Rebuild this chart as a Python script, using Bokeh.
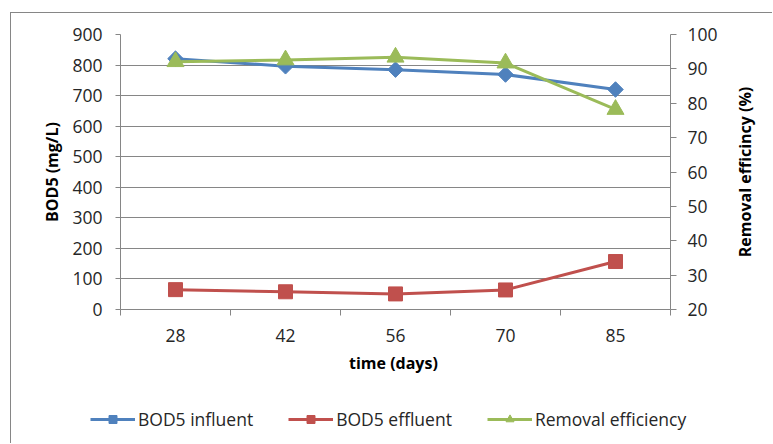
from math import pi

from bokeh.embed import file_html
from bokeh.layouts import column, row
from bokeh.models import FixedTicker, Legend, LegendItem, LinearAxis, Range1d
from bokeh.plotting import figure
from bokeh.resources import INLINE

# sampling days and measured values
days = ["28", "42", "56", "70", "85"]
bod_influent = [821, 796, 785, 769, 720]      # mg/L
bod_effluent = [65, 58, 51, 64, 157]          # mg/L
removal_eff = [92.1, 92.6, 93.4, 91.7, 78.2]  # %

left_ticks = [0, 100, 200, 300, 400, 500, 600, 700, 800, 900]
right_ticks = [20, 30, 40, 50, 60, 70, 80, 90, 100]

series_names = ["BOD5 influent", "BOD5 effluent", "Removal efficiency"]

BLUE = "#4F81BD"
RED = "#C0504D"
GREEN = "#9BBB59"
GRID = "#868686"
FONT = "Open Sans"
EDGE = f"1px solid {GRID}"

pos = list(range(1, len(days) + 1))

# ---- main chart -------------------------------------------------------
p = figure(width=717, height=380, output_backend="svg", toolbar_location=None,
           x_range=Range1d(0.5, len(days) + 0.5), y_range=Range1d(0, 900),
           min_border_left=109, min_border_right=58,
           min_border_top=21, min_border_bottom=84)
p.outline_line_color = None
p.background_fill_color = "white"
p.border_fill_color = "white"
p.margin = (12, 0, 0, 10)
p.styles = {"border-left": EDGE, "border-top": EDGE}

p.extra_y_ranges = {"eff": Range1d(20, 100)}

# horizontal gridlines only
p.xgrid.visible = False
p.ygrid.ticker = FixedTicker(ticks=left_ticks)
p.ygrid.grid_line_color = GRID
p.ygrid.grid_line_width = 1

# category axis: labels at centres, tick marks between categories
xa = p.xaxis[0]
xa.ticker = FixedTicker(ticks=pos, minor_ticks=[x - 0.5 for x in pos] + [pos[-1] + 0.5])
xa.major_label_overrides = {x: d for x, d in zip(pos, days)}
xa.major_tick_out = 0
xa.major_tick_in = 0
xa.minor_tick_out = 6
xa.minor_tick_in = 0
xa.minor_tick_line_color = GRID
xa.axis_line_color = GRID
xa.axis_label = "time  (days)"
xa.major_label_standoff = 13
xa.axis_label_standoff = 7

ya = p.yaxis[0]
ya.ticker = FixedTicker(ticks=left_ticks)
ya.minor_tick_line_color = None
ya.major_tick_in = 0
ya.major_tick_out = 5
ya.major_tick_line_color = GRID
ya.axis_line_color = GRID
ya.axis_label = "BOD5 (mg/L)"
ya.major_label_standoff = 13
ya.axis_label_standoff = 6

ra = LinearAxis(y_range_name="eff", ticker=FixedTicker(ticks=right_ticks))
ra.minor_tick_line_color = None
ra.major_tick_in = 0
ra.major_tick_out = 6
ra.major_tick_line_color = GRID
ra.axis_line_color = GRID
ra.major_label_standoff = 11
p.add_layout(ra, "right")

for ax in (xa, ya, ra):
    ax.major_label_text_font = FONT
    ax.major_label_text_font_size = "17.5px"
    ax.major_label_text_color = "#262626"
    ax.axis_label_text_font = FONT
    ax.axis_label_text_font_size = "16px"
    ax.axis_label_text_font_style = "bold"
    ax.axis_label_text_color = "#000000"

styles = [
    dict(color=BLUE, marker="square", angle=pi / 4, size=11),
    dict(color=RED, marker="square", angle=0, size=14),
    dict(color=GREEN, marker="triangle", angle=0, size=17),
]
series = [(bod_influent, "default"), (bod_effluent, "default"), (removal_eff, "eff")]

for (vals, rng), st in zip(series, styles):
    p.line(pos, vals, line_color=st["color"], line_width=3, y_range_name=rng)
    p.scatter(pos, vals, marker=st["marker"], angle=st["angle"], size=st["size"],
              fill_color=st["color"], line_color=st["color"], y_range_name=rng)

# ---- right-hand axis title, reading bottom to top ----------------------
rt = figure(width=45, height=380, output_backend="svg", toolbar_location=None,
            x_range=Range1d(0, 1), y_range=Range1d(20, 100),
            x_axis_location=None, y_axis_location=None,
            min_border_left=40, min_border_right=0,
            min_border_top=21, min_border_bottom=84)
rt.outline_line_color = None
rt.xgrid.visible = False
rt.ygrid.visible = False
rt.margin = (12, 0, 0, 0)
rt.styles = {"border-top": EDGE}
rt_axis = LinearAxis(ticker=FixedTicker(ticks=[]), axis_label="Removal efficincy (%)")
rt_axis.axis_line_color = None
rt_axis.major_tick_line_color = None
rt_axis.minor_tick_line_color = None
rt_axis.axis_label_standoff = 12
rt_axis.axis_label_text_font = FONT
rt_axis.axis_label_text_font_size = "16px"
rt_axis.axis_label_text_font_style = "bold"
rt_axis.axis_label_text_color = "#000000"
rt.add_layout(rt_axis, "left")

# ---- legend strip under the chart --------------------------------------
lg = figure(width=763, height=51, output_backend="svg", toolbar_location=None,
            x_range=Range1d(0, 1), y_range=Range1d(-2, -1),
            x_axis_location=None, y_axis_location=None,
            min_border_left=0, min_border_right=0, min_border_top=0, min_border_bottom=0)
lg.outline_line_color = None
lg.xgrid.visible = False
lg.ygrid.visible = False
lg.margin = (0, 0, 0, 10)
lg.styles = {"border-left": EDGE}

# legend proxies: same series, styled alike, outside this strip's ranges
items = []
for name, (vals, _), st in zip(series_names, series, styles):
    lr = lg.line(pos, vals, line_color=st["color"], line_width=3)
    mr = lg.scatter(pos, vals, marker=st["marker"], angle=st["angle"], size=st["size"],
                    fill_color=st["color"], line_color=st["color"])
    items.append(LegendItem(label=name, renderers=[lr, mr]))

legend = Legend(items=items, orientation="horizontal", location=(79, 12),
                margin=0, padding=0, spacing=35, label_standoff=3,
                glyph_width=45, glyph_height=20,
                label_text_font=FONT, label_text_font_size="17.5px",
                label_text_color="#262626",
                border_line_color=None, background_fill_alpha=0)
lg.add_layout(legend, "center")

page = column(row(p, rt, spacing=0), lg, spacing=0)

open("out.html", "w").write(file_html(page, INLINE))
